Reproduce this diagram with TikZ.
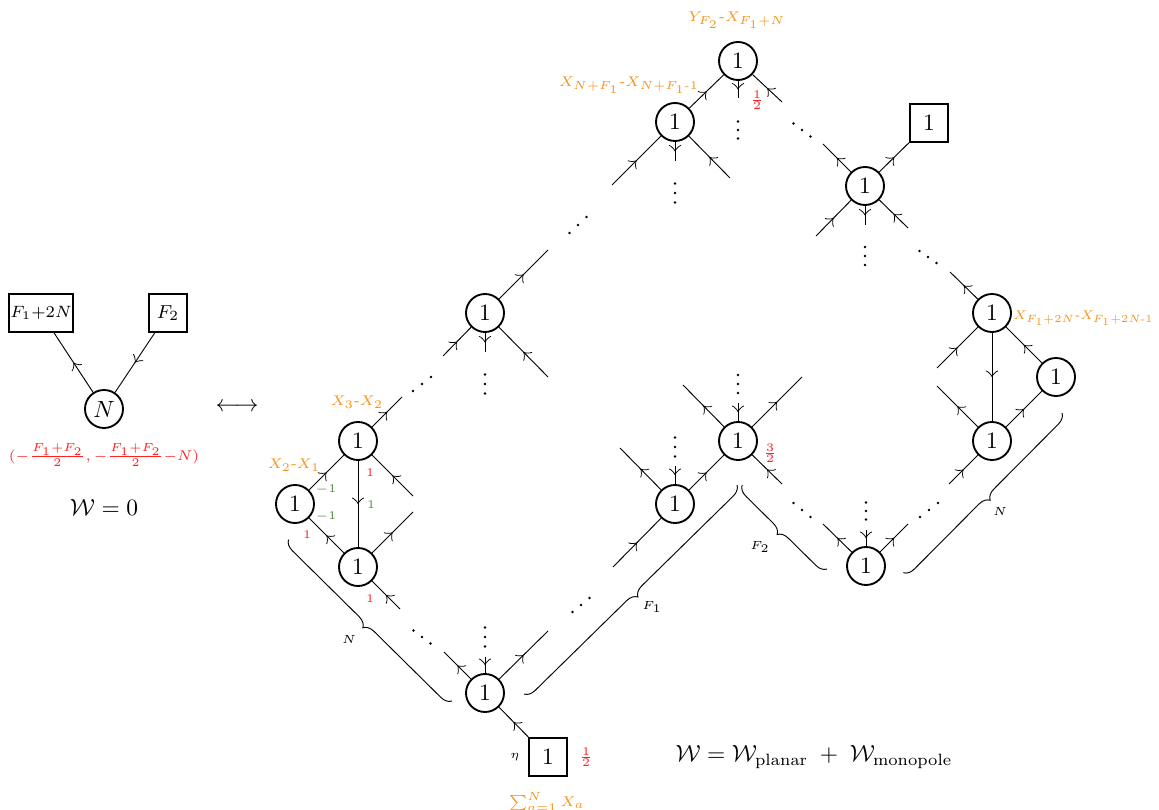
\documentclass[tikz,border=0pt]{standalone}
\usepackage{amsmath}
\usepackage{amssymb}
\usepackage{xcolor}
\usetikzlibrary{arrows.meta, decorations.markings, decorations.pathreplacing}
\newcommand{\dotrun}[4]{%
  \foreach \cnt in {-1,0,1} {\fill ({#1+(\cnt)*(#3)},{#2+(\cnt)*(#4)}) circle (0.55pt);}}
\definecolor{quivred}{HTML}{FF2020}
\definecolor{quivorange}{HTML}{F7931E}
\definecolor{quivgreen}{HTML}{4E8B3F}

\begin{document}
\begin{tikzpicture}[
  x=0.015cm,
  y=-0.015cm,
  every node/.style={font=\normalsize},
  gauge/.style={circle, draw, thick, minimum size=0.57cm, inner sep=0pt},
  flavour/.style={rectangle, draw, thick, minimum size=0.57cm, inner sep=1pt},
  flow/.style={postaction={decorate},
               decoration={markings, mark=at position 0.5 with
                 {\arrow{Classical TikZ Rightarrow[scale=1.5]}}}},
  grp/.style={decorate, decoration={brace, amplitude=4.5pt}},
  grplbl/.style={font=\tiny},
  chg/.style={font=\tiny, text=quivred},
  mix/.style={font=\tiny, text=quivgreen},
  fi/.style={font=\fontsize{6.5}{7}\selectfont, text=quivorange}
]
  % ---- frame, same proportions as the page ----
  \useasboundingbox (0,0) rectangle (1159,810);

  % ---- electric side ----
  \node[flavour, minimum width=0.87cm, inner sep=0.5pt, font=\fontsize{7.4}{8}\selectfont]
    (lf1) at (41,313) {$F_1{+}2N$};
  \node[flavour, font=\footnotesize] (lf2) at (168,313) {$F_2$};
  \node[gauge] (lN) at (104,409) {$N$};
  \draw[flow] (lN) -- (lf1);
  \draw[flow] (lf2) -- (lN);
  \node[chg, font=\fontsize{6.3}{7}\selectfont] (lchg) at (104,455)
    {$(-\frac{F_1+F_2}{2},-\frac{F_1+F_2}{2}{-}N)$};
  \node (lW) at (104,507) {$\mathcal{W}=0$};
  \node (dual) at (237,407) {$\longleftrightarrow$};

  % ---- gauge and flavour nodes of the dual quiver ----
  \node[gauge] (A) at (485,693) {1};
  \node[flavour] (eta) at (548,757) {1};
  \node[gauge] (B1) at (358,567) {1};
  \node[gauge] (B2) at (358,441) {1};
  \node[gauge] (B3) at (295,504) {1};
  \node[gauge] (C) at (485,313) {1};
  \node[gauge] (D) at (675,122) {1};
  \node[gauge] (E) at (738,61) {1};
  \node[gauge] (F) at (865,186) {1};
  \node[flavour] (G) at (929,123) {1};
  \node[gauge] (H) at (992,313) {1};
  \node[gauge] (I) at (1056,377) {1};
  \node[gauge] (J) at (992,441) {1};
  \node[gauge] (K) at (866,566) {1};
  \node[gauge] (L) at (738,441) {1};
  \node[gauge] (M) at (675,504) {1};

  % ---- loose ends of the legs ----
  \coordinate (A-ul) at (444,652);  \coordinate (A-ur) at (548,631);  \coordinate (A-up) at (485,657);
  \coordinate (B1-dr) at (400,609); \coordinate (B1-ur) at (413,512);
  \coordinate (B2-ur) at (402,397); \coordinate (B2-dr) at (413,496);
  \coordinate (C-dl) at (443,356);  \coordinate (C-ur) at (548,250);
  \coordinate (C-dr) at (548,377);  \coordinate (C-dn) at (485,352);
  \coordinate (D-dl) at (612,185);  \coordinate (D-dr) at (730,178);  \coordinate (D-dn) at (675,161);
  \coordinate (E-dn) at (738,98);   \coordinate (E-dr) at (782,102);
  \coordinate (F-ul) at (823,144);  \coordinate (F-dl) at (816,236);
  \coordinate (F-dr) at (908,228);  \coordinate (F-dn) at (865,225);
  \coordinate (H-ul) at (950,272);  \coordinate (H-dl) at (937,368);
  \coordinate (J-ul) at (937,386);  \coordinate (J-dl) at (949,484);
  \coordinate (K-ul) at (823,524);  \coordinate (K-ur) at (908,524);  \coordinate (K-up) at (866,530);
  \coordinate (L-ul) at (683,385);  \coordinate (L-ur) at (802,377);
  \coordinate (L-dr) at (782,484);  \coordinate (L-up) at (738,403);
  \coordinate (M-ul) at (620,448);  \coordinate (M-dl) at (613,567);  \coordinate (M-up) at (675,466);

  % ---- bifundamentals ----
  \draw[flow] (eta) -- (A);
  \draw[flow] (A) -- (A-ul);
  \draw[flow] (A) -- (A-ur);
  \draw[flow] (A-up) -- (A);
  \draw[flow] (B2) -- (B1);
  \draw[flow] (B3) -- (B2);
  \draw[flow] (B1) -- (B3);
  \draw[flow] (B1-dr) -- (B1);
  \draw[flow] (B1) -- (B1-ur);
  \draw[flow] (B2) -- (B2-ur);
  \draw[flow] (B2-dr) -- (B2);
  \draw[flow] (C-dl) -- (C);
  \draw[flow] (C) -- (C-ur);
  \draw[flow] (C-dr) -- (C);
  \draw[flow] (C) -- (C-dn);
  \draw[flow] (D-dl) -- (D);
  \draw[flow] (D-dr) -- (D);
  \draw[flow] (D) -- (D-dn);
  \draw[flow] (D) -- (E);
  \draw[flow] (E) -- (E-dn);
  \draw[flow] (E-dr) -- (E);
  \draw[flow] (F) -- (F-ul);
  \draw[flow] (F) -- (G);
  \draw[flow] (F-dl) -- (F);
  \draw[flow] (F-dr) -- (F);
  \draw[flow] (F) -- (F-dn);
  \draw[flow] (H) -- (H-ul);
  \draw[flow] (H-dl) -- (H);
  \draw[flow] (H) -- (J);
  \draw[flow] (I) -- (H);
  \draw[flow] (J) -- (I);
  \draw[flow] (J) -- (J-ul);
  \draw[flow] (J-dl) -- (J);
  \draw[flow] (K) -- (K-ul);
  \draw[flow] (K) -- (K-ur);
  \draw[flow] (K-up) -- (K);
  \draw[flow] (L) -- (L-ul);
  \draw[flow] (L) -- (L-ur);
  \draw[flow] (L-dr) -- (L);
  \draw[flow] (L-up) -- (L);
  \draw[flow] (M) -- (M-ul);
  \draw[flow] (M-dl) -- (M);
  \draw[flow] (M-up) -- (M);
  \draw[flow] (M) -- (L);

  % ---- dots ----
  \dotrun{485}{637}{0}{9.5}
  \dotrun{485}{384}{0}{9.5}
  \dotrun{675}{193}{0}{9.5}
  \dotrun{738}{130}{0}{8.5}
  \dotrun{865}{256}{0}{9}
  \dotrun{866}{511}{0}{8.5}
  \dotrun{738}{384}{0}{9}
  \dotrun{675}{447}{0}{9.5}
  \dotrun{422}{637}{8.5}{6.5}
  \dotrun{802}{130}{8.5}{6.5}
  \dotrun{928}{257}{8.5}{6}
  \dotrun{802}{510}{8.5}{7}
  \dotrun{422}{384}{9}{-7}
  \dotrun{578}{225}{8.5}{-8}
  \dotrun{929}{510}{9}{-7}
  \dotrun{581}{605}{8.5}{-7}

  % ---- braces ----
  \draw[grp] (452,701) -- (288,539);
  \draw[grp] (737,485) -- (524,694);
  \draw[grp] (827,569) -- (742,485);
  \draw[grp] (1062,413) -- (903,573);
  \node[grplbl] (bN1) at (349,639) {$N$};
  \node[grplbl] (bF1) at (652,607) {$F_1$};
  \node[grplbl] (bF2) at (760,547) {$F_2$};
  \node[grplbl] (bN2) at (1000,512) {$N$};

  % ---- charges and FI labels ----
  \node[fi] (lX32) at (357,402) {$X_3$-$X_2$};
  \node[fi] (lX21) at (294,465) {$X_2$-$X_1$};
  \node[mix] (m1) at (326,490) {$-1$};
  \node[mix] (m2) at (326,517) {$-1$};
  \node[mix] (m3) at (371,505) {$1$};
  \node[chg] (c1) at (370,473) {$1$};
  \node[chg] (c2) at (307,535) {$1$};
  \node[chg] (c3) at (370,599) {$1$};
  \node[grplbl] (leta) at (515,757) {$\eta$};
  \node[chg] (ceta) at (586,757) {$\frac{1}{2}$};
  \node[fi] (lsum) at (547,802) {$\sum_{a=1}^{N}X_a$};
  \node[fi] (lYX) at (737,20) {$Y_{F_2}$-$X_{F_1+N}$};
  \node[fi] (lXN) at (629,85) {$X_{N+F_1}$-$X_{N+F_1\text{-}1}$};
  \node[chg] (cE) at (757,100) {$\frac{1}{2}$};
  \node[chg] (cL) at (770,453) {$\frac{3}{2}$};
  \node[fi, scale=0.9, anchor=west, inner sep=0pt] (lXF) at (1013,318)
    {$X_{F_1+2N}$-$X_{F_1+2N\text{-}1}$};

  % ---- superpotential ----
  \node (lWW) at (814,757)
    {$\mathcal{W}=\mathcal{W}_{\rm planar}\;+\;\mathcal{W}_{\rm monopole}$};
\end{tikzpicture}
\end{document}
